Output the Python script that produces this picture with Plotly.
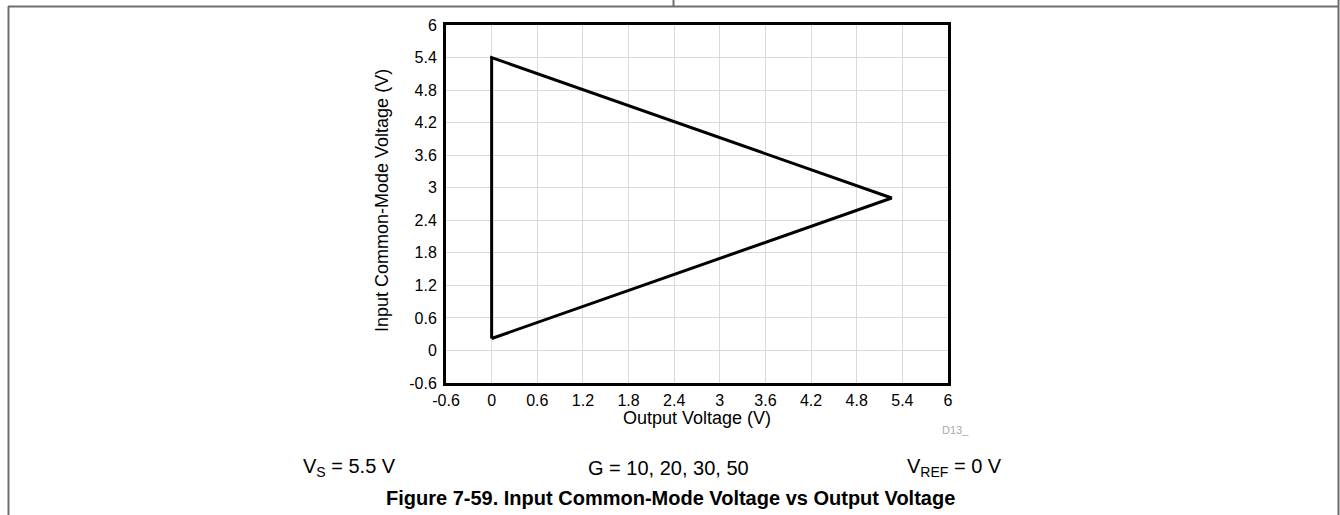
import plotly.graph_objects as go

# Boundary of the allowed operating region (Output V, Input common-mode V)
output_voltage = [0.0, 0.0, 5.26, 0.0]
input_cm_voltage = [0.22, 5.4, 2.81, 0.22]

tick_values = [-0.6, 0, 0.6, 1.2, 1.8, 2.4, 3, 3.6, 4.2, 4.8, 5.4, 6]
tick_labels = ["-0.6", "0", "0.6", "1.2", "1.8", "2.4", "3", "3.6", "4.2", "4.8", "5.4", "6"]

W, H = 1340, 515
L, R, T, B = 446, 948, 25, 383
FONT = "Liberation Sans, Arial, sans-serif"

fig = go.Figure()
fig.add_trace(go.Scatter(
    x=output_voltage, y=input_cm_voltage, mode="lines",
    line=dict(color="black", width=3), hoverinfo="skip", showlegend=False,
))

axis_common = dict(
    range=[-0.6, 6], tickvals=tick_values, ticktext=tick_labels,
    showgrid=True, gridcolor="#d9d9d9", gridwidth=1,
    showline=True, linecolor="black", linewidth=3, mirror=True,
    zeroline=False, ticks="", tickfont=dict(family=FONT, size=16, color="black"),
)
fig.update_xaxes(**axis_common, ticklabelstandoff=1)
fig.update_yaxes(**axis_common, ticklabelstandoff=3)


def px_x(px):
    return (px - L) / (R - L)


def px_y(py):
    return (B - py) / (B - T)


annotations = [
    dict(text="Output Voltage (V)", x=px_x(697), y=px_y(418), size=18),
    dict(text="D13_", x=px_x(955), y=px_y(430), size=11, color="#aaaaaa"),
    dict(text="V<sub>S</sub> = 5.5 V", x=px_x(349), y=px_y(468), size=20),
    dict(text="G = 10, 20, 30, 50", x=px_x(668), y=px_y(468), size=20),
    dict(text="V<sub>REF</sub> = 0 V", x=px_x(954), y=px_y(468), size=20),
    dict(text="<b>Figure 7-59. Input Common-Mode Voltage vs Output Voltage</b>",
         x=px_x(670), y=px_y(498), size=20),
]
for a in annotations:
    fig.add_annotation(
        text=a["text"], x=a["x"], y=a["y"], xref="paper", yref="paper",
        showarrow=False, xanchor="center", yanchor="middle",
        font=dict(family=FONT, size=a["size"], color=a.get("color", "black")),
    )

fig.add_annotation(
    text="Input Common-Mode Voltage (V)", x=px_x(382), y=px_y(201),
    xref="paper", yref="paper", showarrow=False, textangle=-90,
    xanchor="center", yanchor="middle",
    font=dict(family=FONT, size=18, color="black"),
)

# Page frame around the figure block
frame = dict(type="line", xref="paper", yref="paper", line=dict(color="#6e6e6e", width=2))
fig.add_shape(**frame, x0=px_x(8), x1=px_x(1339), y0=px_y(6.5), y1=px_y(6.5))
fig.add_shape(**frame, x0=px_x(8.5), x1=px_x(8.5), y0=px_y(6.5), y1=px_y(515))
fig.add_shape(**frame, x0=px_x(1338.5), x1=px_x(1338.5), y0=px_y(0), y1=px_y(515))
fig.add_shape(**frame, x0=px_x(673.5), x1=px_x(673.5), y0=px_y(0), y1=px_y(6.5))

fig.update_layout(
    width=W, height=H,
    margin=dict(l=L, r=W - R, t=T, b=H - B),
    plot_bgcolor="white", paper_bgcolor="white",
    font=dict(family=FONT),
)

fig.write_html("out.html", config={"displayModeBar": False})
